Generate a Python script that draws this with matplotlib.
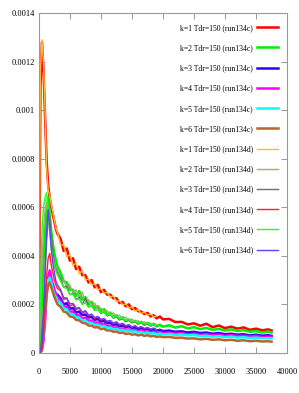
import matplotlib
matplotlib.use("Agg")
import matplotlib.pyplot as plt

# time steps (run134c goes to 37500, run134d stops at 19000)
x_c = [0, 250, 500, 750, 1000, 1250, 1500, 1750, 2000, 2250, 2500, 2750, 3000,
       3500, 4000, 4500, 5000, 5500, 6000, 6500, 7000, 7500, 8000, 8500, 9000, 9500, 10000,
       10500, 11000, 11500, 12000, 12500, 13000, 13500, 14000, 14500, 15000,
       15500, 16000, 16500, 17000, 17500, 18000, 18500, 19000, 19500, 20000,
       21000, 22000, 23000, 24000, 25000, 26000, 27000, 28000, 29000, 30000,
       31000, 32000, 33000, 34000, 35000, 36000, 37000, 37500]
x_d = [0, 250, 500, 750, 1000, 1250, 1500, 1750, 2000, 2250, 2500, 2750, 3000,
       3500, 4000, 4500, 5000, 5500, 6000, 6500, 7000, 7500, 8000, 8500, 9000, 9500, 10000,
       10500, 11000, 11500, 12000, 12500, 13000, 13500, 14000, 14500, 15000,
       15500, 16000, 16500, 17000, 17500, 18000, 18500, 19000]

# values in units of 1e-4
k1_c = [0, 11.0, 12.8, 11.6, 9.7, 7.9, 6.9, 6.4, 6.0, 5.7, 5.4, 5.1, 4.9,
        4.7, 4.2, 4.3, 3.8, 3.9, 3.45, 3.55, 3.2, 3.2, 2.9, 3.0, 2.7, 2.8, 2.5,
        2.6, 2.4, 2.4, 2.25, 2.25, 2.05, 2.1, 1.92, 2.0, 1.8, 1.85, 1.72, 1.7, 1.6, 1.65, 1.5, 1.55, 1.42, 1.5, 1.38,
        1.4, 1.27, 1.28, 1.17, 1.22, 1.12, 1.2, 1.06, 1.13, 1.02, 1.08, 1.0, 1.05, 0.95, 1.0, 0.93, 0.97,
        0.92]
k2_c = [0, 0.6, 2.2, 3.8, 5.0, 5.9, 6.4, 5.7, 5.0, 4.5, 4.1, 3.8, 3.55,
        3.3, 2.95, 2.9, 2.6, 2.6, 2.35, 2.55, 2.2, 2.3, 2.0, 2.1, 1.85, 1.92, 1.72,
        1.8, 1.58, 1.66, 1.47, 1.55, 1.38, 1.47, 1.3, 1.38, 1.26, 1.32, 1.2, 1.28, 1.16, 1.24, 1.13, 1.2, 1.1, 1.16, 1.08,
        1.14, 1.04, 1.1, 1.01, 1.06, 0.98, 1.03, 0.95, 0.99, 0.92, 0.97, 0.9, 0.94, 0.87, 0.9, 0.84, 0.88,
        0.84]
k3_c = [0, 0.05, 0.3, 1.2, 2.2, 2.8, 3.1, 3.0, 2.75, 2.85, 2.5, 2.35, 2.4,
        2.25, 2.0, 2.05, 1.82, 1.85, 1.66, 1.7, 1.56, 1.58, 1.46, 1.48, 1.36, 1.4, 1.29,
        1.32, 1.22, 1.24, 1.15, 1.18, 1.1, 1.13, 1.06, 1.1, 1.03, 1.05, 0.98, 1.03, 0.96, 0.99, 0.93, 0.97, 0.92, 0.95, 0.9,
        0.92, 0.87, 0.89, 0.84, 0.87, 0.82, 0.84, 0.79, 0.82, 0.77, 0.79, 0.75, 0.77, 0.72, 0.75, 0.71, 0.73,
        0.7]
k4_c = [0, 0.02, 0.1, 0.5, 1.3, 2.4, 3.1, 3.4, 3.1, 2.8, 2.6, 2.45, 2.3,
        2.15, 1.92, 1.9, 1.7, 1.7, 1.55, 1.55, 1.42, 1.45, 1.33, 1.33, 1.23, 1.26, 1.17,
        1.19, 1.1, 1.12, 1.03, 1.06, 0.99, 1.01, 0.95, 0.97, 0.91, 0.94, 0.88, 0.91, 0.86, 0.89, 0.84, 0.87, 0.82, 0.85, 0.81,
        0.83, 0.79, 0.81, 0.76, 0.79, 0.74, 0.77, 0.72, 0.75, 0.7, 0.73, 0.69, 0.71, 0.67, 0.7, 0.65, 0.67,
        0.66]
k5_c = [0, 0.03, 0.2, 0.9, 1.9, 2.6, 3.0, 3.1, 2.9, 2.6, 2.4, 2.3, 2.15,
        2.05, 1.82, 1.79, 1.6, 1.59, 1.46, 1.45, 1.34, 1.33, 1.24, 1.24, 1.15, 1.17, 1.1,
        1.11, 1.03, 1.05, 0.97, 0.99, 0.94, 0.95, 0.9, 0.92, 0.87, 0.89, 0.84, 0.86, 0.81, 0.84, 0.79, 0.82, 0.77, 0.8, 0.76,
        0.78, 0.74, 0.76, 0.72, 0.74, 0.69, 0.71, 0.67, 0.69, 0.65, 0.67, 0.63, 0.65, 0.61, 0.63, 0.6, 0.61,
        0.6]
k6_c = [0, 0.02, 0.15, 0.8, 1.7, 2.4, 2.8, 2.9, 2.7, 2.5, 2.3, 2.15, 2.0,
        1.9, 1.7, 1.66, 1.5, 1.48, 1.36, 1.34, 1.24, 1.22, 1.13, 1.12, 1.05, 1.06, 0.98,
        1.0, 0.92, 0.93, 0.87, 0.88, 0.82, 0.84, 0.78, 0.8, 0.75, 0.77, 0.72, 0.75, 0.7, 0.73, 0.68, 0.7, 0.66, 0.68, 0.65,
        0.66, 0.62, 0.63, 0.59, 0.6, 0.56, 0.58, 0.54, 0.56, 0.52, 0.54, 0.5, 0.52, 0.48, 0.5, 0.47, 0.48,
        0.46]

k1_d = [0, 11.6, 12.9, 11.9, 9.9, 7.6, 6.7, 6.5, 6.1, 5.8, 5.45, 5.15, 4.95,
        4.45, 4.45, 3.95, 4.05, 3.6, 3.7, 3.25, 3.4, 3.0, 3.05, 2.8, 2.85, 2.6, 2.65,
        2.45, 2.5, 2.3, 2.35, 2.12, 2.15, 1.98, 2.02, 1.85, 1.9, 1.72, 1.78, 1.62, 1.68, 1.55, 1.6, 1.48, 1.52]
k2_d = [0, 1.2, 3.6, 5.1, 5.9, 6.2, 5.6, 5.0, 4.5, 4.1, 3.8, 3.55, 3.4,
        3.0, 3.0, 2.65, 2.8, 2.45, 2.6, 2.3, 2.5, 2.1, 2.2, 1.95, 2.05, 1.8, 1.85,
        1.68, 1.75, 1.55, 1.65, 1.48, 1.55, 1.4, 1.48, 1.33, 1.4, 1.27, 1.33, 1.22, 1.28, 1.18, 1.23, 1.14, 1.18]
k3_d = [0, 0.1, 0.6, 1.8, 3.2, 4.6, 5.5, 5.6, 4.8, 4.2, 3.7, 3.45, 3.3,
        3.1, 2.7, 2.75, 2.4, 2.45, 2.2, 2.3, 2.0, 2.25, 1.9, 1.95, 1.75, 1.8, 1.62,
        1.68, 1.52, 1.58, 1.43, 1.48, 1.36, 1.41, 1.3, 1.34, 1.24, 1.29, 1.2, 1.24, 1.15, 1.19, 1.11, 1.15, 1.08]
k4_d = [0, 0.03, 0.2, 0.9, 2.0, 3.2, 3.9, 4.1, 3.6, 3.3, 3.0, 2.8, 2.65,
        2.55, 2.2, 2.25, 1.92, 2.0, 1.78, 1.85, 1.62, 1.72, 1.52, 1.58, 1.42, 1.5, 1.35,
        1.4, 1.28, 1.33, 1.2, 1.26, 1.15, 1.21, 1.1, 1.16, 1.06, 1.12, 1.03, 1.08, 1.0, 1.05, 0.98, 1.02, 0.95]
k5_d = [0, 2.6, 5.0, 6.0, 6.4, 6.6, 5.9, 5.0, 4.3, 3.9, 3.6, 3.35, 3.2,
        2.95, 2.7, 2.65, 2.4, 2.42, 2.18, 2.22, 2.0, 2.06, 1.88, 1.95, 1.75, 1.8, 1.65,
        1.7, 1.55, 1.6, 1.46, 1.52, 1.4, 1.44, 1.33, 1.37, 1.27, 1.32, 1.22, 1.27, 1.18, 1.22, 1.14, 1.18, 1.11]
k6_d = [0, 0.05, 0.4, 1.6, 3.4, 5.0, 5.9, 5.2, 4.3, 3.7, 3.3, 2.95, 2.8,
        2.6, 2.28, 2.26, 2.02, 2.04, 1.84, 1.86, 1.68, 1.74, 1.56, 1.6, 1.45, 1.5, 1.38,
        1.42, 1.3, 1.34, 1.23, 1.28, 1.17, 1.22, 1.12, 1.16, 1.07, 1.11, 1.03, 1.08, 1.0, 1.04, 0.97, 1.02, 0.95]

series_c = [k1_c, k2_c, k3_c, k4_c, k5_c, k6_c]
series_d = [k1_d, k2_d, k3_d, k4_d, k5_d, k6_d]
colors_c = ["#ff0000", "#00ee00", "#3000ff", "#ff00ff", "#00ffff", "#b5652f"]
colors_d = ["#ffb830", "#a8a878", "#707070", "#ff2020", "#20ff20", "#6a3cff"]

xticks = [0, 5000, 10000, 15000, 20000, 25000, 30000, 35000, 40000]
yticks = [0, 0.0002, 0.0004, 0.0006, 0.0008, 0.001, 0.0012, 0.0014]
ytick_labels = ["0", "0.0002", "0.0004", "0.0006", "0.0008", "0.001", "0.0012", "0.0014"]

plt.rcParams["font.family"] = ["Liberation Serif", "DejaVu Serif"]

fig = plt.figure(figsize=(2.99, 3.93), dpi=100)
ax = fig.add_axes([0.130, 0.102, 0.830, 0.865])

for i, (vals, col) in enumerate(zip(series_c, colors_c)):
    ax.plot(x_c, [v * 1e-4 for v in vals], color=col, lw=1.8,
            label=f"k={i + 1} Tdr=150 (run134c)")
for i, (vals, col) in enumerate(zip(series_d, colors_d)):
    ax.plot(x_d, [v * 1e-4 for v in vals], color=col, lw=1.0,
            label=f"k={i + 1} Tdr=150 (run134d)")

ax.set_xlim(0, 40000)
ax.set_ylim(0, 0.0014)
ax.set_xticks(xticks)
ax.set_xticklabels([str(t) for t in xticks])
ax.set_yticks(yticks)
ax.set_yticklabels(ytick_labels)
ax.tick_params(direction="in", length=4.5, width=0.6, color="#888888",
               top=True, right=True, labelsize=6)
ax.tick_params(axis="x", pad=11)
ax.tick_params(axis="y", pad=3)
for sp in ax.spines.values():
    sp.set_color("#999999")
    sp.set_linewidth(0.8)

ax.legend(loc="upper right", bbox_to_anchor=(0.964, 0.968), frameon=False,
          markerfirst=False, fontsize=5.5, handlelength=2.8, handletextpad=0.5,
          labelspacing=1.6, borderpad=0, borderaxespad=0)

fig.savefig("out.png", dpi=100)
